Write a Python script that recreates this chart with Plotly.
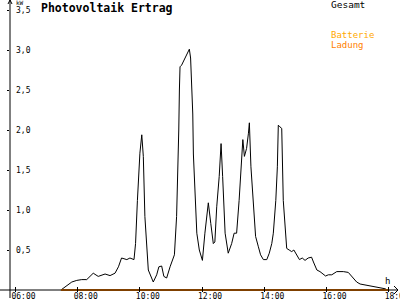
import plotly.graph_objects as go

# ---- data (decimal hours, kW) ----
gesamt_t = [7.46, 7.65, 7.81, 7.97, 8.13, 8.29, 8.50, 8.66, 8.88, 9.04, 9.20, 9.31, 9.41, 9.58, 9.68, 9.81,
            9.86, 9.92, 10.00, 10.06, 10.11, 10.16, 10.22, 10.27, 10.43, 10.54, 10.61, 10.70, 10.77, 10.86,
            10.97, 11.11, 11.18, 11.23, 11.25, 11.27, 11.29, 11.34, 11.59, 11.63, 11.67, 11.70, 11.72, 11.77,
            11.83, 11.91, 12.01, 12.09, 12.20, 12.28, 12.36, 12.41, 12.47, 12.55, 12.61, 12.66, 12.74, 12.84,
            12.95, 13.03, 13.11, 13.19, 13.25, 13.31, 13.36, 13.43, 13.49, 13.52, 13.57, 13.65, 13.72, 13.81,
            13.88, 13.97, 14.08, 14.16, 14.24, 14.29, 14.37, 14.42, 14.45, 14.50, 14.56, 14.61, 14.67, 14.72,
            14.80, 14.88, 14.95, 15.04, 15.13, 15.22, 15.31, 15.41, 15.52, 15.58, 15.69, 15.79, 15.90, 15.97,
            16.06, 16.17, 16.33, 16.54, 16.70, 16.81, 16.97, 17.08, 17.29, 17.51, 17.72, 17.88, 17.96]
gesamt_kw = [0.00, 0.06, 0.10, 0.12, 0.13, 0.13, 0.21, 0.17, 0.20, 0.18, 0.21, 0.29, 0.40, 0.38, 0.40, 0.38,
             0.58, 1.12, 1.71, 1.94, 1.67, 0.92, 0.50, 0.25, 0.10, 0.19, 0.29, 0.30, 0.17, 0.15,
             0.29, 0.44, 0.92, 1.54, 2.00, 2.50, 2.79, 2.81, 3.01, 2.90, 2.54, 2.20, 1.70, 1.25,
             0.71, 0.50, 0.37, 0.71, 1.09, 0.83, 0.58, 0.60, 1.04, 1.42, 1.83, 1.42, 0.71, 0.46,
             0.58, 0.71, 0.71, 1.12, 1.54, 1.88, 1.67, 1.77, 1.96, 2.09, 1.54, 1.12, 0.67, 0.54,
             0.44, 0.38, 0.38, 0.46, 0.58, 0.71, 1.12, 1.54, 2.06, 2.04, 2.02, 1.12, 0.71, 0.52,
             0.50, 0.48, 0.50, 0.44, 0.38, 0.40, 0.37, 0.40, 0.41, 0.35, 0.25, 0.23, 0.19, 0.175,
             0.19, 0.19, 0.23, 0.23, 0.22, 0.175, 0.10, 0.075, 0.06, 0.05, 0.034, 0.016, 0.0]
ladung_t = [7.46, 18.02]
ladung_kw = [0.0, 0.0]

x_tickvals = [6, 8, 10, 12, 14, 16, 18]
x_ticktext = ["06:00", "08:00", "10:00", "12:00", "14:00", "16:00", "18:00"]
y_tickvals = [0.5, 1.0, 1.5, 2.0, 2.5, 3.0, 3.5]
y_ticktext = ["0,5", "1,0", "1,5", "2,0", "2,5", "3,0", "3,5"]

title_text = "Photovoltaik Ertrag"
legend_names = ["Gesamt", "Batterie", "Ladung"]
legend_colors = ["#000000", "#FFA800", "#FF8000"]

# ---- layout geometry helpers (pixels -> paper) ----
L, R, T, B = 10, 2, 0, 8
W, H = 400, 300
PW, PH = W - L - R, H - T - B


def px(xpix):
    return (xpix - L) / PW


def py(ypix):
    return (H - B - ypix) / PH


MONO = "DejaVu Sans Mono"

fig = go.Figure()
fig.add_trace(go.Scatter(x=gesamt_t, y=gesamt_kw, mode="lines", name=legend_names[0],
                         line=dict(color=legend_colors[0], width=1), showlegend=False))
fig.add_trace(go.Scatter(x=ladung_t, y=ladung_kw, mode="lines", name=legend_names[2],
                         line=dict(color=legend_colors[2], width=2), showlegend=False))

fig.update_layout(
    width=W, height=H,
    margin=dict(l=L, r=R, t=T, b=B, pad=0),
    paper_bgcolor="white", plot_bgcolor="white",
    font=dict(family=MONO, size=8, color="black"),
    xaxis=dict(range=[5.823, 18.299], showgrid=False, zeroline=False, showline=False,
               tickmode="array", tickvals=x_tickvals, ticktext=x_ticktext,
               ticks="inside", ticklen=5, tickcolor="black", tickwidth=1,
               tickfont=dict(family=MONO, size=8, color="black"), automargin=False,
               ticklabelstandoff=-2, ticklabelshift=8, ticklabeloverflow="allow"),
    yaxis=dict(range=[-0.025, 3.625], showgrid=False, zeroline=False, showline=False,
               tickmode="array", tickvals=y_tickvals, ticktext=y_ticktext,
               ticks="outside", ticklen=2, tickcolor="black", tickwidth=1,
               ticklabelposition="inside", ticklabelstandoff=3, ticklabeloverflow="allow",
               tickfont=dict(family=MONO, size=8, color="black"), automargin=False),
)

# axis lines and arrows (decorative)
shapes = [
    dict(type="line", xref="paper", yref="paper", x0=px(10), x1=px(10), y0=py(298), y1=py(0),
         line=dict(color="black", width=1)),
    dict(type="line", xref="paper", yref="paper", x0=px(0), x1=px(398), y0=py(290), y1=py(290),
         line=dict(color="black", width=1)),
    dict(type="path", xref="paper", yref="paper",
         path=f"M {px(8)},{py(4)} L {px(10)},{py(0)} L {px(12)},{py(4)}",
         line=dict(color="black", width=1)),
    dict(type="path", xref="paper", yref="paper",
         path=f"M {px(394)},{py(286)} L {px(398)},{py(290)} L {px(394)},{py(294)}",
         line=dict(color="black", width=1)),
]
fig.update_layout(shapes=shapes)

ann = [
    dict(text=f"<b>{title_text}</b>", x=px(39), y=py(8), xanchor="left", yanchor="middle",
         font=dict(family=MONO, size=11.5, color="black")),
    dict(text="kW", x=px(14), y=py(2), xanchor="left", yanchor="middle",
         font=dict(family=MONO, size=6, color="black")),
    dict(text="h", x=px(387), y=py(281), xanchor="center", yanchor="middle",
         font=dict(family=MONO, size=9, color="black")),
    dict(text=legend_names[0], x=px(329), y=py(4.5), xanchor="left", yanchor="middle",
         font=dict(family=MONO, size=9.5, color=legend_colors[0])),
    dict(text=legend_names[1], x=px(329), y=py(35), xanchor="left", yanchor="middle",
         font=dict(family=MONO, size=9, color=legend_colors[1])),
    dict(text=legend_names[2], x=px(329), y=py(45), xanchor="left", yanchor="middle",
         font=dict(family=MONO, size=9, color=legend_colors[2])),
]
for a in ann:
    a.update(xref="paper", yref="paper", showarrow=False)
fig.update_layout(annotations=ann)

fig.write_html("out.html")
